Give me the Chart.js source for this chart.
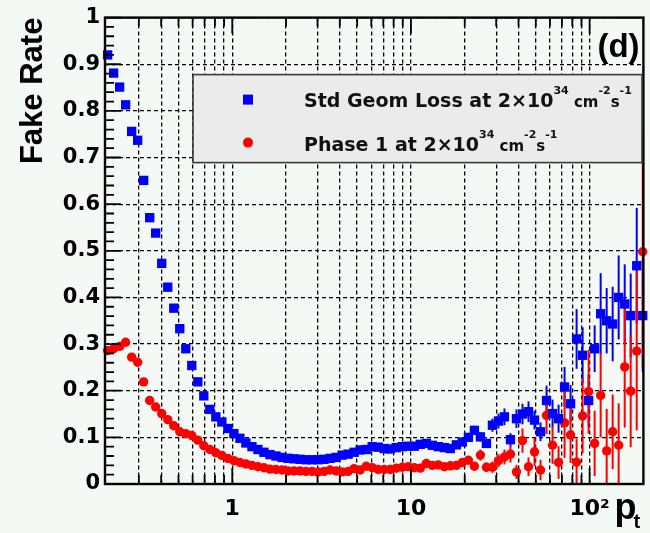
<!DOCTYPE html>
<html><head><meta charset="utf-8">
<script src="https://cdn.jsdelivr.net/npm/chart.js@4.4.1/dist/chart.umd.min.js"></script>
<style>
html,body{margin:0;padding:0;background:#f5f9f5;}
canvas{display:block;}
</style></head><body>
<canvas id="c" width="650" height="533"></canvas>
<script>
// ---- data ----
const ptBins = [0.2007,0.2168,0.2343,0.2531,0.2735,0.2955,0.3193,0.3451,0.3728,0.4029,
0.4355,0.4705,0.5084,0.5494,0.5936,0.6415,0.6931,0.749,0.8093,0.8746,
0.9451,1.021,1.104,1.192,1.289,1.392,1.504,1.626,1.757,1.898,
2.051,2.216,2.395,2.588,2.797,3.022,3.266,3.528,3.813,4.12,
4.452,4.81,5.198,5.616,6.069,6.557,7.086,7.656,8.273,8.94,
9.661,10.44,11.28,12.19,13.17,14.23,15.38,16.62,17.96,19.4,
20.97,22.66,24.48,26.45,28.58,30.89,33.37,36.06,38.96,42.1,
45.5,49.16,53.12,57.4,62.02,67.02,72.42,78.25,84.56,91.37,
98.74,106.7,115.3,124.6,134.6,145.4,157.2,169.8,183.5,198.3];

const stdGeomLoss = [0.920,0.881,0.851,0.813,0.756,0.737,0.651,0.571,0.538,0.473,
0.422,0.377,0.333,0.290,0.254,0.219,0.189,0.160,0.144,0.133,
0.119,0.108,0.098,0.088,0.080,0.074,0.068,0.063,0.060,0.057,
0.055,0.054,0.053,0.052,0.052,0.052,0.053,0.055,0.057,0.062,
0.064,0.068,0.073,0.074,0.080,0.079,0.076,0.075,0.078,0.080,
0.081,0.081,0.085,0.087,0.083,0.080,0.078,0.076,0.084,0.090,
0.100,0.115,0.101,0.087,0.126,0.135,0.144,0.095,0.140,0.150,
0.155,0.137,0.112,0.179,0.151,0.140,0.208,0.172,0.311,0.276,
0.179,0.290,0.365,0.350,0.343,0.400,0.386,0.361,0.468,0.361];

const stdGeomLossErr = [0.002,0.002,0.002,0.002,0.002,0.002,0.002,0.002,0.002,0.002,
0.002,0.002,0.002,0.002,0.002,0.002,0.002,0.002,0.002,0.002,
0.002,0.002,0.002,0.002,0.002,0.002,0.002,0.002,0.002,0.002,
0.002,0.002,0.002,0.002,0.002,0.002,0.002,0.002,0.002,0.003,
0.003,0.003,0.003,0.003,0.004,0.004,0.004,0.004,0.004,0.004,
0.005,0.005,0.005,0.005,0.005,0.006,0.006,0.006,0.007,0.007,
0.008,0.010,0.010,0.010,0.014,0.016,0.018,0.014,0.020,0.022,
0.022,0.020,0.020,0.032,0.030,0.030,0.043,0.040,0.064,0.060,
0.055,0.050,0.087,0.070,0.080,0.090,0.085,0.090,0.124,0.120];

const phase1 = [0.286,0.290,0.295,0.304,0.272,0.261,0.219,0.179,0.165,0.151,
0.138,0.125,0.112,0.108,0.104,0.094,0.082,0.074,0.067,0.061,
0.055,0.050,0.046,0.043,0.040,0.037,0.035,0.032,0.031,0.030,
0.028,0.028,0.028,0.027,0.027,0.026,0.027,0.030,0.028,0.026,
0.027,0.033,0.030,0.038,0.035,0.031,0.031,0.031,0.034,0.036,
0.037,0.035,0.034,0.044,0.040,0.041,0.037,0.039,0.040,0.046,
0.051,0.038,0.062,0.036,0.036,0.050,0.058,0.064,0.026,0.093,
0.037,0.069,0.030,0.147,0.083,0.046,0.131,0.105,0.047,0.146,
0.198,0.087,0.190,0.071,0.112,0.083,0.251,0.199,0.285,0.498];

const phase1Err = [0.003,0.003,0.003,0.003,0.003,0.003,0.003,0.003,0.003,0.003,
0.003,0.003,0.003,0.003,0.003,0.003,0.003,0.003,0.003,0.003,
0.003,0.003,0.003,0.003,0.003,0.003,0.003,0.003,0.003,0.003,
0.003,0.003,0.003,0.003,0.003,0.003,0.003,0.003,0.003,0.003,
0.003,0.003,0.004,0.004,0.004,0.004,0.004,0.004,0.005,0.005,
0.005,0.005,0.005,0.006,0.006,0.006,0.006,0.007,0.007,0.007,
0.008,0.008,0.012,0.010,0.012,0.014,0.016,0.018,0.015,0.026,
0.020,0.030,0.022,0.040,0.040,0.035,0.075,0.060,0.050,0.080,
0.090,0.070,0.090,0.090,0.080,0.090,0.130,0.120,0.170,0.250];

const xGridValues = [0.3,0.4,0.5,0.6,0.7,0.8,0.9,1,2,3,4,5,6,7,8,9,10,20,30,40,50,60,70,80,90,100];
const xLabelValues = [1,10,100];
const xTickLabels = ['1','10','10\u00B2'];
const xMajorValues = [1,10,100];
const yTitle = 'Fake Rate';
const panelLabel = '(d)';
// s: superscript, m: mid-size text on the baseline
const legendEntries = [
  [{t:'Std Geom Loss at 2\u00D710'},{t:'34',s:1},{t:' cm',m:1},{t:'-2',s:1},{t:'s',m:1},{t:'-1',s:1}],
  [{t:'Phase 1 at 2\u00D710'},{t:'34',s:1},{t:' cm',m:1},{t:'-2',s:1},{t:'s',m:1},{t:'-1',s:1}]
];

const BLUE = '#0000ff', RED = '#ff0000';
const TICKFONT = {family:"'DejaVu Sans', sans-serif", weight:'bold', size:21};

function rich(ctx, parts, x, y, fonts, rise){
  let cx = x;
  for (const p of parts){
    ctx.font = p.s ? fonts.sup : (p.m ? fonts.mid : fonts.base);
    ctx.fillText(p.t, cx, p.s ? y - rise : y);
    cx += ctx.measureText(p.t).width;
  }
}

const deco = {
  id: 'deco',
  beforeDatasetsDraw(chart){
    const {ctx, scales:{y}} = chart;
    ctx.save();
    chart.data.datasets.forEach((ds, i) => {
      const meta = chart.getDatasetMeta(i);
      ctx.strokeStyle = ds.backgroundColor;
      ctx.lineWidth = 2;
      ds.data.forEach((p, j) => {
        if (!p.e) return;
        const px = meta.data[j].x;
        const lo = Math.max(0, p.y - p.e), hi = Math.min(1, p.y + p.e);
        ctx.beginPath();
        ctx.moveTo(px, y.getPixelForValue(lo));
        ctx.lineTo(px, y.getPixelForValue(hi));
        ctx.stroke();
      });
    });
    ctx.restore();
  },
  afterDatasetsDraw(chart){
    const {ctx, chartArea:a, scales:{x, y}} = chart;
    ctx.save();
    // frame
    ctx.strokeStyle = '#000';
    ctx.lineWidth = 2.4;
    ctx.strokeRect(a.left, a.top, a.right - a.left, a.bottom - a.top);
    // y ticks (inside, left)
    ctx.lineWidth = 1.8;
    ctx.beginPath();
    for (let i = 0; i <= 50; i++) {
      const py = y.getPixelForValue(i / 50);
      const len = (i % 5 === 0) ? 16 : 9;
      ctx.moveTo(a.left, py); ctx.lineTo(a.left + len, py);
    }
    // x ticks (inside, bottom and top)
    xGridValues.forEach(v => {
      const px = x.getPixelForValue(v);
      const len = xMajorValues.includes(v) ? 16 : 9;
      ctx.moveTo(px, a.bottom); ctx.lineTo(px, a.bottom - len);
      ctx.moveTo(px, a.top); ctx.lineTo(px, a.top + len);
    });
    ctx.stroke();

    // legend box
    const lx = a.left + 88, ly = a.top + 57, lw = 449, lh = 88;
    ctx.fillStyle = '#ebebeb';
    ctx.fillRect(lx, ly, lw, lh);
    ctx.strokeStyle = '#3a3a3a';
    ctx.lineWidth = 1.6;
    ctx.strokeRect(lx, ly, lw, lh);
    // markers
    ctx.fillStyle = BLUE;
    ctx.fillRect(lx + 50, ly + 20, 10, 10);
    ctx.fillStyle = RED;
    ctx.beginPath(); ctx.arc(lx + 55, ly + 68, 5, 0, Math.PI * 2); ctx.fill();
    // texts
    ctx.fillStyle = '#111';
    ctx.textBaseline = 'alphabetic';
    ctx.textAlign = 'left';
    const fonts = {
      base: "bold 19px 'DejaVu Sans', sans-serif",
      mid: "bold 15px 'DejaVu Sans', sans-serif",
      sup: "bold 11px 'DejaVu Sans', sans-serif"
    };
    rich(ctx, legendEntries[0], lx + 111, ly + 32, fonts, 13);
    rich(ctx, legendEntries[1], lx + 111, ly + 76, fonts, 13);

    // panel label
    ctx.fillStyle = '#000';
    ctx.font = "bold 33px 'Liberation Sans', Arial, sans-serif";
    ctx.fillText(panelLabel, a.right - 46, a.top + 39);

    // x axis title p_t
    ctx.font = "bold 36px 'Liberation Sans', Arial, sans-serif";
    ctx.fillText('p', a.right - 29, 519);
    const pw = ctx.measureText('p').width;
    ctx.font = "bold 20px 'Liberation Sans', Arial, sans-serif";
    ctx.fillText('t', a.right - 29 + pw - 3, 528);
    ctx.restore();
  }
};

const mk = (xs, ys, es) => xs.map((v, i) => ({x: v, y: ys[i], e: es[i]}));

new Chart(document.getElementById('c'), {
  type: 'scatter',
  data: {
    datasets: [
      {label: 'Std Geom Loss', data: mk(ptBins, stdGeomLoss, stdGeomLossErr),
       pointStyle: 'rect', pointRadius: 6.6, borderWidth: 0, backgroundColor: BLUE, clip: false},
      {label: 'Phase 1', data: mk(ptBins, phase1, phase1Err),
       pointStyle: 'circle', pointRadius: 4.7, borderWidth: 0, backgroundColor: RED, clip: false}
    ]
  },
  options: {
    responsive: false,
    devicePixelRatio: 1,
    animation: false,
    events: [],
    layout: {padding: {top: 16, right: 4, left: 0, bottom: 0}},
    plugins: {legend: {display: false}, tooltip: {enabled: false}},
    scales: {
      x: {
        type: 'logarithmic', min: 0.194, max: 200,
        afterBuildTicks: s => { s.ticks = xGridValues.map(v => ({value: v})); },
        afterFit: s => { s.height = 49; },
        ticks: {autoSkip: false, maxRotation: 0, minRotation: 0, padding: 12, color: '#000',
          font: {family:"'DejaVu Sans', sans-serif", weight:'bold', size:22},
          callback: v => { const i = xLabelValues.indexOf(v); return i >= 0 ? xTickLabels[i] : ''; }},
        grid: {color: '#000', lineWidth: 1.3, drawTicks: false},
        border: {display: false, dash: [4, 3]}
      },
      y: {
        min: 0, max: 1,
        afterFit: s => { s.width = 105; },
        ticks: {stepSize: 0.1, padding: 5, color: '#000', font: TICKFONT,
          callback: v => String(Math.round(v * 10) / 10)},
        grid: {color: '#000', lineWidth: 1.3, drawTicks: false},
        border: {display: false, dash: [4, 3]},
        title: {display: true, text: yTitle, align: 'end', color: '#000',
          font: {family: "'Liberation Sans', Arial, sans-serif", weight: 'bold', size: 31},
          padding: {top: 15, bottom: 0}}
      }
    }
  },
  plugins: [deco]
});
</script>
</body></html>
